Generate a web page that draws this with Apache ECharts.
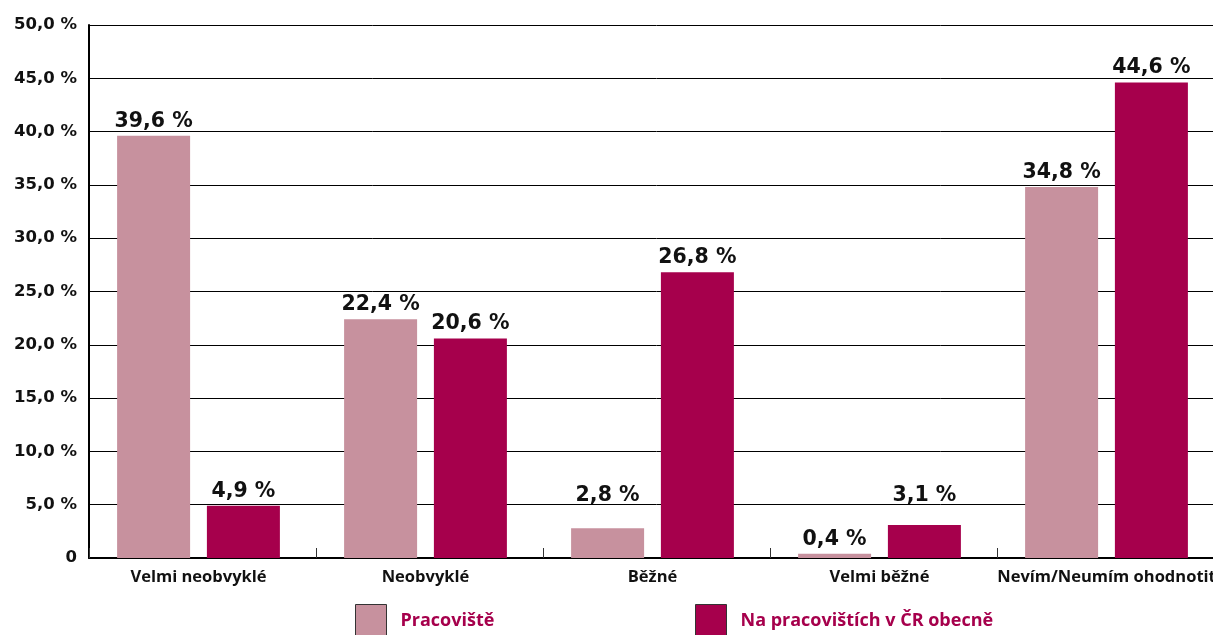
<!DOCTYPE html>
<html>
<head>
<meta charset="utf-8">
<script src="https://cdn.jsdelivr.net/npm/echarts@6/dist/echarts.min.js"></script>
<style>
  html, body { margin: 0; padding: 0; background: #fff; overflow: hidden; }
  #chart { width: 1224px; height: 635px; }
</style>
</head>
<body>
<div id="chart"></div>
<script>
// Categories and values (percent)
const categories = ['Velmi neobvyklé', 'Neobvyklé', 'Běžné', 'Velmi běžné', 'Nevím/Neumím ohodnotit'];
const pracoviste = [39.6, 22.4, 2.8, 0.4, 34.8];
const obecne = [4.9, 20.6, 26.8, 3.1, 44.6];
const seriesNames = ['Pracoviště', 'Na pracovištích v ČR obecně'];
const yMin = 0, yMax = 50, yStep = 5;

const TEXT_FONT = '"Open Sans", "DejaVu Sans", sans-serif';
const NUM_FONT = '"DejaVu Sans", "Open Sans", sans-serif';
const LIGHT = '#C7919E';
const DARK = '#A6004C';

const fmt = v => v.toFixed(1).replace('.', ',') + ' %';

// labels of the short bars are lifted clear of the 5 % gridline
const liftLabel = (values, lifts) =>
  values.map((v, i) => lifts[i] ? { value: v, label: { offset: [0, -lifts[i]] } } : v);

const legendStyle = {
  icon: 'rect',
  itemWidth: 31, itemHeight: 32,
  itemStyle: { borderColor: '#333', borderWidth: 1 },
  textStyle: { color: DARK, fontFamily: TEXT_FONT, fontWeight: 'bold', fontSize: 18, padding: [0, 0, 0, 9] }
};

const barLabel = {
  show: true, position: 'top', distance: 4,
  color: '#111', fontFamily: NUM_FONT, fontWeight: 'bold', fontSize: 20.5,
  formatter: p => fmt(p.value)
};

const chart = echarts.init(document.getElementById('chart'));
chart.setOption({
  animation: false,
  backgroundColor: '#fff',
  grid: [
    // frame: axis lines, ticks and gridlines
    { left: 89, right: 0, top: 25, bottom: 77 },
    // bar layer with category names, a few pixels left of the frame's category centres
    { left: 85, right: 4, top: 25, bottom: 77 }
  ],
  legend: [
    Object.assign({ data: [seriesNames[0]], left: 350, top: 599 }, legendStyle),
    Object.assign({ data: [seriesNames[1]], left: 690, top: 599 }, legendStyle)
  ],
  xAxis: [
    {
      type: 'category', gridIndex: 0,
      data: categories,
      axisLine: { lineStyle: { color: '#000', width: 2 } },
      axisTick: { show: true, inside: true, length: 10, interval: 0, lineStyle: { color: '#333', width: 1 } },
      axisLabel: { show: false }
    },
    {
      type: 'category', gridIndex: 1,
      data: categories,
      axisLine: { show: false },
      axisTick: { show: false },
      axisLabel: { interval: 0, color: '#111', fontFamily: TEXT_FONT, fontWeight: 'bold', fontSize: 16.5, margin: 11 }
    }
  ],
  yAxis: [
    {
      type: 'value', gridIndex: 0,
      min: yMin, max: yMax, interval: yStep,
      axisLine: { show: true, lineStyle: { color: '#000', width: 2 } },
      axisTick: { show: false },
      splitLine: { lineStyle: { color: '#000', width: 1 } },
      axisLabel: {
        color: '#111', fontFamily: NUM_FONT, fontWeight: 'bold', fontSize: 16.5, margin: 12,
        formatter: v => v === 0 ? '0' : fmt(v)
      }
    },
    {
      type: 'value', gridIndex: 1, show: false,
      min: yMin, max: yMax, interval: yStep,
      splitLine: { show: false }
    }
  ],
  series: [
    {
      name: seriesNames[0],
      type: 'bar', xAxisIndex: 1, yAxisIndex: 1,
      data: liftLabel(pracoviste, [0, 0, 18, 0, 0]),
      barWidth: 73,
      barGap: '23%',
      itemStyle: { color: LIGHT },
      label: barLabel
    },
    {
      name: seriesNames[1],
      type: 'bar', xAxisIndex: 1, yAxisIndex: 1,
      data: liftLabel(obecne, [0, 0, 0, 15, 0]),
      barWidth: 73,
      barGap: '23%',
      itemStyle: { color: DARK },
      label: barLabel
    }
  ]
});
</script>
</body>
</html>
